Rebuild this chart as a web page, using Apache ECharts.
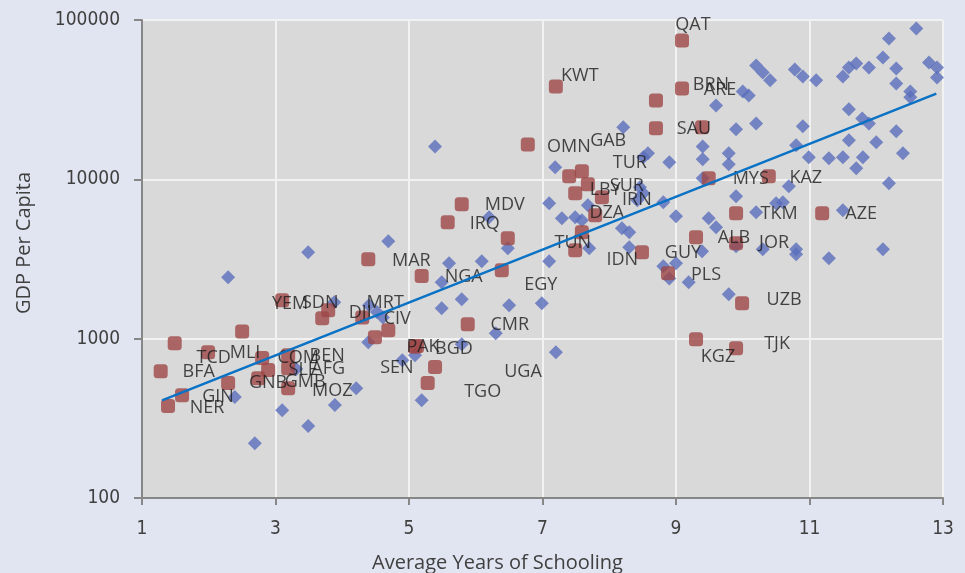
<!DOCTYPE html>
<html>
<head>
<meta charset="utf-8">
<script src="https://cdn.jsdelivr.net/npm/echarts@6/dist/echarts.min.js"></script>
<style>
  html, body { margin: 0; padding: 0; background: #E1E5F1; }
  #chart { width: 965px; height: 573px; }
</style>
</head>
<body>
<div id="chart"></div>
<script>
  // 其它国家（蓝色菱形）
  const otherX = [12.60, 12.19, 12.79, 12.91, 12.91, 12.10, 12.30, 11.89, 11.70, 11.59,
    11.50, 11.10, 10.90, 10.78, 12.30, 12.51, 12.51, 10.20, 10.30, 10.41,
    10.00, 10.09, 9.60, 10.20, 9.90, 10.90, 11.59, 11.79, 11.89, 12.30,
    11.59, 12.00, 12.40, 11.80, 11.70, 11.50, 11.29, 10.99, 10.80, 9.40,
    9.40, 9.79, 9.79, 8.90, 9.40, 9.90, 10.69, 12.19, 8.21, 8.58,
    8.51, 7.19, 8.46, 8.51, 8.42, 8.81, 9.00, 9.49, 9.60, 10.20,
    10.50, 10.60, 11.50, 9.39, 9.00, 8.81, 8.90, 9.19, 9.79, 9.90,
    10.30, 10.80, 10.80, 11.29, 12.10, 7.10, 7.68, 7.29, 7.49, 7.59,
    8.19, 8.30, 8.30, 7.70, 7.10, 6.20, 6.48, 5.60, 6.09, 5.49,
    5.79, 5.49, 6.50, 6.99, 2.29, 3.49, 4.69, 5.39, 3.88, 4.40,
    4.52, 4.61, 4.39, 5.79, 6.30, 5.09, 4.90, 7.20, 5.19, 4.21,
    3.89, 3.10, 3.49, 2.69, 2.39, 3.31]
  const otherY = [88500, 76600, 54200, 50400, 43600, 58200, 49700, 50400, 53400, 50400,
    44200, 41800, 44200, 48900, 40000, 35600, 32700, 51900, 46900, 41800,
    35600, 33600, 29100, 22400, 20600, 21500, 27500, 24100, 22400, 20000,
    17600, 17100, 14560, 13740, 11720, 13740, 13540, 13740, 16340, 16100,
    13350, 14560, 12420, 12790, 10150, 7820, 9040, 9440, 21200, 14560,
    13740, 11890, 8910, 8170, 7390, 7180, 5860, 5690, 5000, 6210,
    7070, 7180, 6390, 3540, 2970, 2850, 2390, 2260, 1900, 3800,
    3640, 3640, 3390, 3200, 3640, 7070, 6870, 5690, 5780, 5530,
    4930, 4650, 3750, 3690, 3060, 5780, 3690, 2970, 3060, 2260,
    1770, 1550, 1620, 1670, 2430, 3490, 4080, 16100, 1690, 1620,
    1470, 1360, 951, 924, 1080, 788, 733, 823, 411, 489,
    383, 356, 283, 221, 430, 644]

  // 标注国家（红色方块）
  const mainNames = ['QAT', 'BRN', 'ARE', 'SAU', '', 'KWT', 'OMN', 'GAB', 'TUR', 'SUR',
    'LBY', 'IRN', '', 'DZA', 'TUN', 'IDN', 'GUY', 'PLS', 'MYS', 'KAZ',
    'TKM', 'AZE', 'ALB', 'JOR', 'UZB', 'KGZ', 'TJK', 'MDV', 'IRQ', 'MAR',
    'NGA', 'EGY', 'CMR', 'PAK', 'BGD', 'UGA', 'TGO', 'SEN', 'MRT', 'CIV',
    'DJI', 'YEM', 'SDN', 'COM', 'BEN', 'SLE', 'AFG', 'GMB', 'MOZ', 'GNB',
    'TCD', 'MLI', '', 'BFA', 'GIN', 'NER']
  const mainX = [9.09, 9.09, 9.39, 8.70, 8.70, 7.20, 6.78, 7.40, 7.59, 7.68,
    7.49, 7.89, 7.79, 7.59, 6.48, 7.49, 8.49, 8.88, 9.49, 10.39,
    9.90, 11.19, 9.30, 9.90, 9.99, 9.30, 9.90, 5.79, 5.58, 4.39,
    5.19, 6.39, 5.88, 5.09, 5.12, 5.39, 5.28, 4.49, 3.70, 4.69,
    4.30, 3.10, 3.79, 2.80, 3.19, 2.89, 3.19, 2.74, 3.19, 2.29,
    1.49, 1.99, 2.50, 1.28, 1.60, 1.39]
  const mainY = [74400, 37200, 21200, 20900, 31300, 38300, 16560, 10440, 11220, 9300,
    8170, 7710, 5950, 4650, 4270, 3590, 3490, 2570, 10150, 10440,
    6120, 6120, 4330, 3970, 1670, 993, 872, 6970, 5380, 3150,
    2470, 2690, 1230, 890, 900, 663, 526, 1022, 1345, 1130,
    1360, 1740, 1510, 755, 788, 635, 653, 565, 489, 526,
    937, 823, 1110, 625, 442, 378]

  // 趋势线端点
  const trendX = [1.3, 12.9]
  const trendY = [410, 34500]

  const yTicks = [100, 1000, 10000, 100000]

  // 标签相对方块中心的偏移
  const labelOffset = {
    QAT: [11, -16], BRN: [29, -4], ARE: [18, -37], SAU: [38, 1], KWT: [24, -11],
    OMN: [41, 2], GAB: [39, -35], TUR: [48, -8], SUR: [39, 2], LBY: [30, -3],
    IRN: [35, 3], DZA: [25, -19], TUN: [65, 5], IDN: [47, 10], GUY: [41, 1],
    PLS: [38, 2], MYS: [42, 1], KAZ: [37, 2], TKM: [43, 1], AZE: [39, 1],
    ALB: [38, 1], JOR: [38, 0], UZB: [42, -3], KGZ: [22, 18], TJK: [41, -4],
    MDV: [43, 1], IRQ: [37, 2], MAR: [43, 2], NGA: [42, 1], EGY: [39, 15],
    CMR: [42, 1], PAK: [8, 0], BGD: [37, 3], UGA: [88, 5], TGO: [55, 9],
    SEN: [22, 31], MRT: [63, -15], CIV: [9, -11], DJI: [-2, -5], YEM: [8, 4],
    SDN: [-8, -7], COM: [36, 0], BEN: [39, 1], SLE: [35, 0], AFG: [40, 1],
    GMB: [47, 4], MOZ: [44, 3], GNB: [40, 0], TCD: [39, 15], MLI: [37, 1],
    BFA: [38, 1], GIN: [36, 2], NER: [39, 2]
  }

  const chart = echarts.init(document.getElementById('chart'))

  const mainData = mainNames.map((n, i) => {
    const item = { name: n, value: [mainX[i], mainY[i]] }
    if (n) {
      item.label = { show: true, offset: labelOffset[n] || [30, 0] }
    }
    return item
  })

  const narrowFont = 'Liberation Sans Narrow, DejaVu Sans Condensed, sans-serif'

  const option = {
    backgroundColor: '#E1E5F1',
    animation: false,
    grid: {
      left: 142, right: 22, top: 20, bottom: 75,
      outerBoundsMode: 'none',
      containLabel: false,
      show: true, backgroundColor: '#D9D9D9', borderWidth: 0
    },
    xAxis: {
      type: 'value',
      min: 1, max: 13, interval: 2,
      name: 'Average Years of Schooling',
      nameLocation: 'middle',
      nameGap: 55,
      nameTextStyle: {
        fontFamily: 'Open Sans', fontSize: 20, color: '#404040',
        padding: [0, 90, 0, 0]
      },
      axisLine: { show: true, lineStyle: { color: '#878787', width: 2 } },
      axisTick: { show: true, length: 7, lineStyle: { color: '#878787', width: 2 } },
      axisLabel: { margin: 22, fontSize: 19, color: '#404040', fontFamily: narrowFont },
      splitLine: { show: true, lineStyle: { color: '#F2F2F2', width: 2 } }
    },
    yAxis: {
      type: 'log',
      logBase: 10,
      min: 100, max: 100000,
      name: 'GDP Per Capita',
      nameLocation: 'middle',
      nameGap: 108,
      nameTextStyle: {
        fontFamily: 'Open Sans', fontSize: 20, color: '#404040',
        padding: [0, 0, 0, 32]
      },
      axisLine: { show: true, lineStyle: { color: '#878787', width: 2 } },
      axisTick: { show: true, length: 8, lineStyle: { color: '#878787', width: 2 } },
      axisLabel: {
        margin: 22, fontSize: 19, color: '#404040', fontFamily: narrowFont,
        formatter: v => yTicks.indexOf(Math.round(v)) >= 0 ? String(Math.round(v)) : ''
      },
      splitLine: { show: true, lineStyle: { color: '#F2F2F2', width: 2 } }
    },
    series: [
      {
        name: 'other',
        type: 'scatter',
        symbol: 'diamond',
        symbolSize: 14,
        z: 2,
        itemStyle: { color: '#5A6EBC' },
        data: otherX.map((x, i) => [x, otherY[i]])
      },
      {
        name: 'labelled',
        type: 'scatter',
        symbol: 'roundRect',
        symbolSize: 14,
        z: 3,
        itemStyle: { color: '#9D4646' },
        label: {
          show: false,
          position: 'inside',
          formatter: '{b}',
          fontFamily: 'Open Sans',
          fontSize: 18,
          color: '#1A1A1A',
          textBorderWidth: 0,
          align: 'center',
          verticalAlign: 'middle'
        },
        data: mainData
      },
      {
        name: 'trend',
        type: 'line',
        symbol: 'none',
        z: 4,
        lineStyle: { color: '#0A72C4', width: 2.5 },
        data: trendX.map((x, i) => [x, trendY[i]])
      }
    ]
  }

  chart.setOption(option)
</script>
</body>
</html>
